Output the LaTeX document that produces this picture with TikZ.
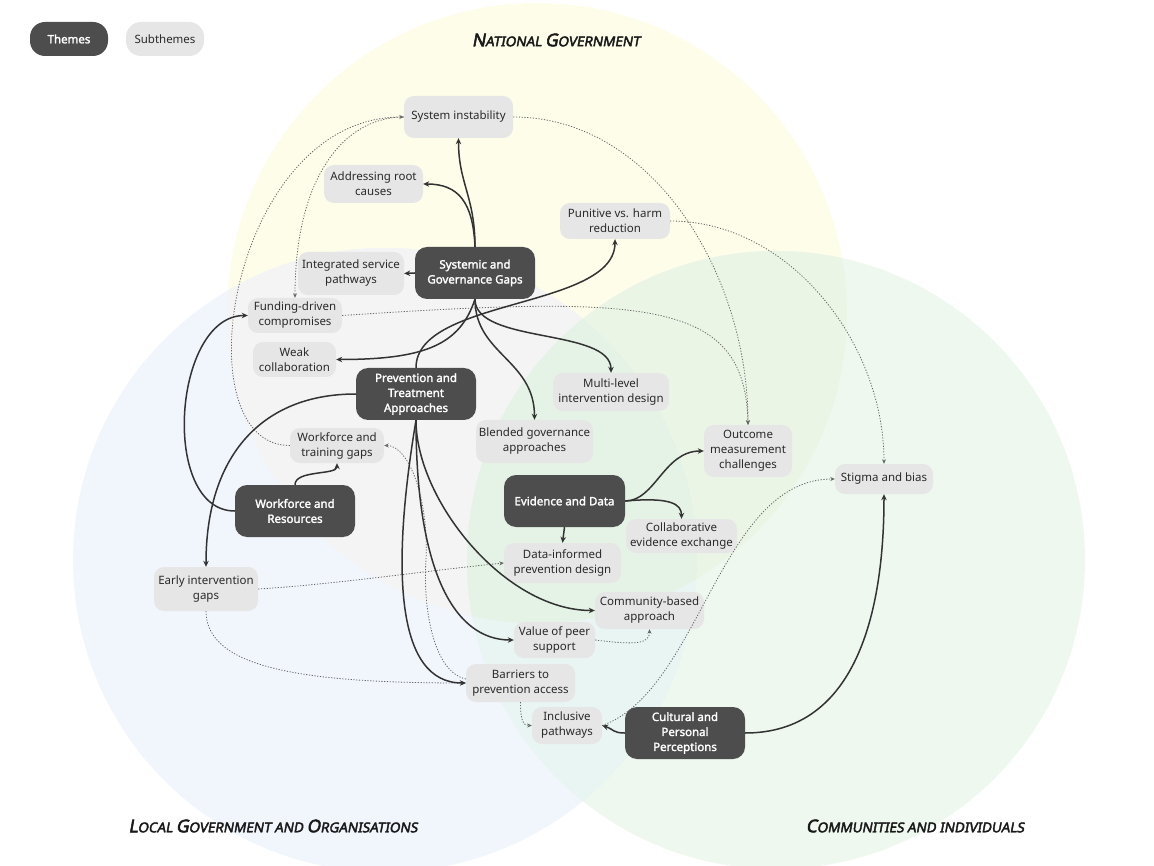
\documentclass[tikz,border=0pt]{standalone}
\usepackage{fontspec}
\setmainfont{Noto Sans}[AutoFakeBold=2]
\newfontfamily\ttlfont{Noto Sans}[FakeSlant=0.18,AutoFakeBold=3]
\usetikzlibrary{arrows.meta,calc}
\definecolor{yc}{HTML}{FDFDEA}
\definecolor{bc}{HTML}{F1F6FC}
\definecolor{gc}{HTML}{EEF8EF}
\definecolor{ybc}{HTML}{F4F4F4}
\definecolor{ygc}{HTML}{EBF5E6}
\definecolor{bgc}{HTML}{E8F5F2}
\definecolor{ybgc}{HTML}{E5F3E6}
\definecolor{subfill}{HTML}{E6E6E6}
\definecolor{themefill}{HTML}{4D4D4D}
\definecolor{txt}{HTML}{2A2A2A}
\definecolor{linec}{HTML}{333333}
\definecolor{dotc}{HTML}{666666}
\newcommand\BL[1]{{\fontsize{17.5}{17.5}\selectfont #1}}
\begin{document}
\begin{tikzpicture}[x=1pt,y=-1pt,
  sub/.style={fill=subfill, rounded corners=10pt, align=center, inner sep=0pt, text=txt,
    font=\fontsize{11.5}{15}\selectfont},
  theme/.style={fill=themefill, rounded corners=12pt, align=center, inner sep=0pt, text=white,
    font=\fontsize{11.5}{15}\selectfont\bfseries},
  arr/.style={draw=linec, line width=1.5pt, -{Stealth[length=6pt,width=5.5pt]}},
  darr/.style={draw=dotc, line width=0.8pt, dash pattern=on 1.2pt off 1.6pt, -{Stealth[length=4.5pt,width=4pt]}},
  ttl/.style={text=black!90, font=\ttlfont\bfseries\fontsize{13.5}{13.5}\selectfont}
]
\useasboundingbox (0,0) rectangle (1154,866);
\clip (0,0) rectangle (1154,866);
\coordinate (Y) at (537,313);
\coordinate (B) at (385,560);
\coordinate (G) at (776,560);
% circles
\fill[yc] (Y) circle[radius=310pt];
\fill[bc] (B) circle[radius=312pt];
\fill[gc] (G) circle[radius=309pt];
\begin{scope}\clip (Y) circle[radius=310pt]; \fill[ybc] (B) circle[radius=312pt];\end{scope}
\begin{scope}\clip (Y) circle[radius=310pt]; \fill[ygc] (G) circle[radius=309pt];\end{scope}
\begin{scope}\clip (B) circle[radius=312pt]; \fill[bgc] (G) circle[radius=309pt];\end{scope}
\begin{scope}\clip (Y) circle[radius=310pt]; \clip (B) circle[radius=312pt]; \fill[ybgc] (G) circle[radius=309pt];\end{scope}

% titles
\node[ttl] (tN) at (556,40) {\BL{N}ATIONAL \BL{G}OVERNMENT};
\node[ttl] (tL) at (273,826) {\BL{L}OCAL \BL{G}OVERNMENT AND \BL{O}RGANISATIONS};
\node[ttl] (tC) at (915,826) {\BL{C}OMMUNITIES AND INDIVIDUALS};

% legend
\node[theme, rounded corners=15pt, minimum width=78pt, minimum height=34pt] (lgT) at (69,39) {Themes};
\node[sub, rounded corners=15pt, minimum width=78pt, minimum height=34pt] (lgS) at (165,39) {Subthemes};

% themes
\node[theme, minimum width=120pt, minimum height=52pt] (sys) at (475,273) {Systemic and\\Governance Gaps};
\node[theme, minimum width=120pt, minimum height=52pt] (prev) at (416,394) {Prevention and\\Treatment\\Approaches};
\node[theme, minimum width=120pt, minimum height=52pt] (wr) at (295,511) {Workforce and\\Resources};
\node[theme, minimum width=121pt, minimum height=52pt] (ev) at (564.5,501) {Evidence and Data};
\node[theme, minimum width=120pt, minimum height=52pt] (cult) at (685,733) {Cultural and\\Personal\\Perceptions};

% subthemes
\node[sub, minimum width=109pt, minimum height=42pt] (sysin) at (458.5,117) {System instability};
\node[sub, minimum width=99pt, minimum height=38pt] (addr) at (373.5,184) {Addressing root\\causes};
\node[sub, minimum width=110pt, minimum height=36pt] (pun) at (615,221) {Punitive vs. harm\\reduction};
\node[sub, minimum width=106pt, minimum height=43pt] (integ) at (351,273.5) {Integrated service\\pathways};
\node[sub, minimum width=94pt, minimum height=35pt] (fund) at (295,315.5) {Funding-driven\\compromises};
\node[sub, minimum width=83pt, minimum height=35pt] (weak) at (294.5,359.5) {Weak\\collaboration};
\node[sub, minimum width=116pt, minimum height=38pt] (multi) at (611,392) {Multi-level\\intervention design};
\node[sub, minimum width=94pt, minimum height=35pt] (wtg) at (337,445.5) {Workforce and\\training gaps};
\node[sub, minimum width=117pt, minimum height=43pt] (blend) at (534.5,441.5) {Blended governance\\approaches};
\node[sub, minimum width=88pt, minimum height=52pt] (out) at (748,451) {Outcome\\measurement\\challenges};
\node[sub, minimum width=98pt, minimum height=30pt] (stig) at (884,479) {Stigma and bias};
\node[sub, minimum width=111pt, minimum height=34pt] (coll) at (681.5,536) {Collaborative\\evidence exchange};
\node[sub, minimum width=117pt, minimum height=40pt] (data) at (562.5,563) {Data-informed\\prevention design};
\node[sub, minimum width=104pt, minimum height=44pt] (early) at (206,589) {Early intervention\\gaps};
\node[sub, minimum width=109pt, minimum height=37pt] (comm) at (649.5,610.5) {Community-based\\approach};
\node[sub, minimum width=81pt, minimum height=36pt] (peer) at (554.5,640) {Value of peer\\support};
\node[sub, minimum width=109pt, minimum height=38pt] (barr) at (520.5,683) {Barriers to\\prevention access};
\node[sub, minimum width=70pt, minimum height=37pt] (incl) at (567,725.5) {Inclusive\\pathways};

\coordinate (wb) at (426,560);

% dotted connectors
\draw[darr] (sysin.west) .. controls +(-60,0) and +(0,-120) .. (fund.north);
\draw[darr] (wtg.west) .. controls +(-110,0) and +(-174,0) .. (sysin.west);
\draw[darr] (sysin.east) .. controls +(140,0) and +(0,-150) .. (out.north);
\draw[darr] (fund.east) .. controls (650,295) and (745,300) .. (out.north);
\draw[darr] (pun.east) .. controls +(120,0) and +(0,-120) .. (stig.north);
\draw[darr] (early.east) .. controls +(80,-5) and +(-80,8) .. (data.west);
\draw[darr] (early.south) .. controls +(0,60) and +(-150,0) .. (barr.west);
\draw[darr] ([yshift=4pt]barr.west) .. controls +(-35,-8) and +(-3,40) .. (wb) .. controls +(3,-60) and +(25,0) .. (wtg.east);
\draw[darr] (peer.east) .. controls +(40,5) and +(0,15) .. (comm.south);
\draw[darr] (barr.south) .. controls +(0,20) and +(-8,0) .. (incl.west);
\draw[darr] (incl.east) .. controls +(98,-35) and +(-115,0) .. (stig.west);

% solid connectors
\draw[arr] (sys.north) .. controls +(0,-50) and +(0,45) .. (sysin.south);
\draw[arr] (sys.north) .. controls +(-2,-45) and +(35,0) .. (addr.east);
\draw[arr] (sys.west) -- (integ.east);
\draw[arr] (sys.south) .. controls +(-15,45) and +(90,0) .. (weak.east);
\draw[arr] (prev.north) .. controls +(0,-70) and +(0,70) .. (pun.south);
\draw[arr] (sys.south) .. controls +(0,45) and +(0,-45) .. (multi.north);
\draw[arr] (sys.south) .. controls +(0,55) and +(0,-60) .. (blend.north);
\draw[arr] (prev.west) .. controls +(-95,0) and +(0,-110) .. (early.north);
\draw[arr] (wr.north) .. controls +(0,-15) and +(0,12) .. (wtg.south);
\draw[arr] (wr.west) .. controls +(-75,0) and +(-75,0) .. (fund.west);
\draw[arr] (ev.east) .. controls +(30,0) and +(-40,0) .. (out.west);
\draw[arr] (ev.east) .. controls +(45,-4) and +(0,-15) .. (coll.north);
\draw[arr] (ev.south) -- (data.north);
\draw[arr] (prev.south) .. controls +(0,80) and +(-90,0) .. (comm.west);
\draw[arr] (prev.south) .. controls +(0,150) and +(-60,0) .. (peer.west);
\draw[arr] (prev.south) .. controls +(-25,150) and +(-70,0) .. (barr.west);
\draw[arr] (cult.west) .. controls +(-12,0) and +(12,4) .. (incl.east);
\draw[arr] (cult.east) .. controls +(110,0) and +(0,120) .. (stig.south);
\end{tikzpicture}
\end{document}
